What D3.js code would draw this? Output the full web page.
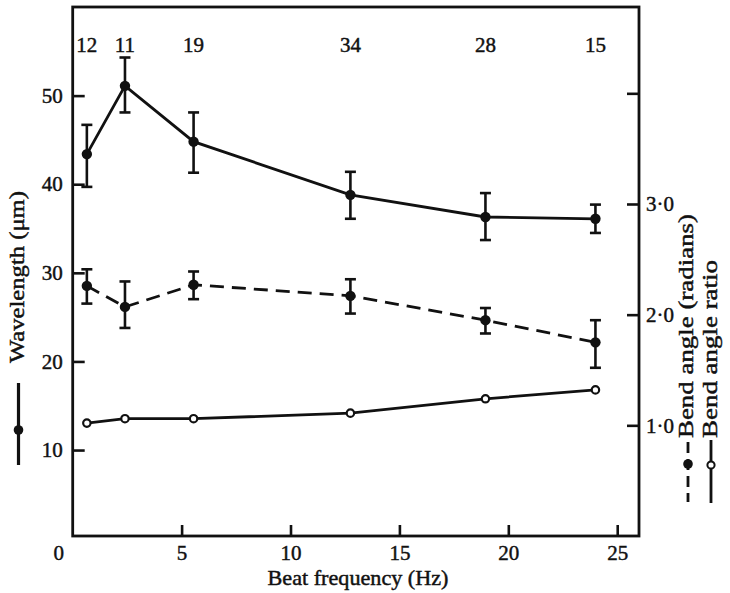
<!DOCTYPE html>
<html>
<head>
<meta charset="utf-8">
<script src="https://cdn.jsdelivr.net/npm/d3@7"></script>
<style>
  html, body { margin: 0; padding: 0; background: #fff; }
  svg { display: block; font-family: "Liberation Serif", "DejaVu Serif", serif; }
  svg text { font-family: "Liberation Serif", "DejaVu Serif", serif; stroke: #111; stroke-width: 0.45px; }
  .axis text { font-size: 21px; fill: #111; }
  .axis line, .axis path { stroke: #111; stroke-width: 2.6; }
</style>
</head>
<body>
<div id="chart"></div>
<script>
// Beat frequency (Hz) of each group, and number of cells in it
const freq = [0.65, 2.4, 5.55, 12.75, 18.95, 24.0];
const counts = ["12", "11", "19", "34", "28", "15"];

// Wavelength (µm), mean with error bar ends
const wavelength   = [43.4, 51.1, 44.8, 38.8, 36.3, 36.1];
const wavelengthLo = [39.7, 48.1, 41.3, 36.1, 33.7, 34.5];
const wavelengthHi = [46.7, 54.3, 48.1, 41.4, 39.0, 37.7];

// Bend angle (radians), mean with error bar ends
const bendAngle   = [2.26, 2.07, 2.27, 2.17, 1.95, 1.75];
const bendAngleLo = [2.10, 1.88, 2.14, 2.01, 1.83, 1.52];
const bendAngleHi = [2.41, 2.30, 2.39, 2.32, 2.06, 1.95];

// Bend angle ratio
const bendRatio = [1.02, 1.06, 1.06, 1.11, 1.24, 1.32];

// Tick values
const xTicks = [5, 10, 15, 20, 25];
const leftTicks = [10, 20, 30, 40, 50];
const rightTicks = [1, 2, 3, 4];
const rightLabels = ["1·0", "2·0", "3·0", ""];

const W = 730, H = 593;
const INK = "#111";

const svg = d3.select("#chart").append("svg")
  .attr("width", W).attr("height", H)
  .attr("viewBox", `0 0 ${W} ${H}`);

const x = d3.scaleLinear().domain([0, 26]).range([72.7, 639]);
const yL = d3.scaleLinear().domain([0.3, 60]).range([536, 7]);
const yR = d3.scaleLinear().domain([0, 4.78]).range([536, 7]);

const [x0, x1] = x.range();
const [yb, yt] = yL.range();

// Frame
svg.append("rect")
  .attr("x", x0).attr("y", yt)
  .attr("width", x1 - x0).attr("height", yb - yt)
  .attr("fill", "none").attr("stroke", INK).attr("stroke-width", 2.8);

// Axes, ticks pointing inward (d3 puts sans-serif on the group, drop it)
svg.append("g").attr("class", "axis")
  .attr("transform", `translate(0,${yb})`)
  .call(d3.axisBottom(x).tickValues(xTicks).tickSizeInner(-11).tickSizeOuter(0).tickPadding(9))
  .call(g => g.attr("font-family", null).attr("font-size", null))
  .call(g => g.select(".domain").remove());

svg.append("g").attr("class", "axis")
  .attr("transform", `translate(${x0},0)`)
  .call(d3.axisLeft(yL).tickValues(leftTicks).tickSizeInner(-12).tickSizeOuter(0).tickPadding(10))
  .call(g => g.attr("font-family", null).attr("font-size", null))
  .call(g => g.select(".domain").remove());

svg.append("g").attr("class", "axis")
  .attr("transform", `translate(${x1},0)`)
  .call(d3.axisRight(yR).tickValues(rightTicks)
    .tickFormat((d, i) => rightLabels[i])
    .tickSizeInner(-12).tickSizeOuter(0).tickPadding(7))
  .call(g => g.attr("font-family", null).attr("font-size", null))
  .call(g => g.select(".domain").remove());

// Shared zero in the corner
svg.append("text")
  .attr("x", x0 - 14).attr("y", yb + 24)
  .attr("text-anchor", "middle")
  .attr("font-size", 21).attr("fill", INK)
  .text("0");

// Axis titles
svg.append("text")
  .attr("x", 358).attr("y", 585)
  .attr("text-anchor", "middle")
  .attr("font-size", 21).attr("fill", INK)
  .attr("textLength", 181).attr("lengthAdjust", "spacingAndGlyphs")
  .text("Beat frequency (Hz)");

svg.append("text")
  .attr("transform", "translate(24,277) rotate(-90)")
  .attr("text-anchor", "middle")
  .attr("font-size", 21).attr("fill", INK)
  .attr("textLength", 172).attr("lengthAdjust", "spacingAndGlyphs")
  .text("Wavelength (μm)");

// Sample sizes along the top
svg.append("g").selectAll("text")
  .data(freq)
  .join("text")
  .attr("x", d => x(d))
  .attr("y", 52)
  .attr("text-anchor", "middle")
  .attr("font-size", 21).attr("fill", INK)
  .text((d, i) => counts[i]);

// Helper for one series with optional error bars
function drawSeries(values, lo, hi, y, opts) {
  const pts = freq.map((f, i) => ({ f, v: values[i], lo: lo && lo[i], hi: hi && hi[i] }));
  const g = svg.append("g");

  g.append("path")
    .datum(pts)
    .attr("fill", "none")
    .attr("stroke", INK)
    .attr("stroke-width", 2.8)
    .attr("stroke-dasharray", opts.dash || null)
    .attr("d", d3.line().x(d => x(d.f)).y(d => y(d.v)));

  if (lo) {
    const eb = g.selectAll(".eb").data(pts).join("g").attr("class", "eb");
    eb.append("line")
      .attr("x1", d => x(d.f)).attr("x2", d => x(d.f))
      .attr("y1", d => y(d.lo)).attr("y2", d => y(d.hi))
      .attr("stroke", INK).attr("stroke-width", 2.6);
    ["lo", "hi"].forEach(k => {
      eb.append("line")
        .attr("x1", d => x(d.f) - 5.5).attr("x2", d => x(d.f) + 5.5)
        .attr("y1", d => y(d[k])).attr("y2", d => y(d[k]))
        .attr("stroke", INK).attr("stroke-width", 2.6);
    });
  }

  g.selectAll("circle").data(pts).join("circle")
    .attr("cx", d => x(d.f)).attr("cy", d => y(d.v))
    .attr("r", opts.open ? 3.7 : 5.2)
    .attr("fill", opts.open ? "#fff" : INK)
    .attr("stroke", INK)
    .attr("stroke-width", opts.open ? 2.2 : 0);
}

drawSeries(wavelength, wavelengthLo, wavelengthHi, yL, {});
drawSeries(bendAngle, bendAngleLo, bendAngleHi, yR, { dash: "14,8" });
drawSeries(bendRatio, null, null, yR, { open: true });

// Legend keys set vertically beside the axes
function legendKey(cx, yTop, yBot, yDot, open, dash, width) {
  const g = svg.append("g");
  g.append("line")
    .attr("x1", cx).attr("x2", cx).attr("y1", yTop).attr("y2", yBot)
    .attr("stroke", INK).attr("stroke-width", width)
    .attr("stroke-dasharray", dash || null);
  g.append("circle")
    .attr("cx", cx).attr("cy", yDot)
    .attr("r", open ? 3.6 : 4.8)
    .attr("fill", open ? "#fff" : INK)
    .attr("stroke", INK).attr("stroke-width", open ? 2 : 0);
}

legendKey(18.5, 383, 465, 430, false, null, 3.2);
legendKey(688, 442, 502, 464, false, "11,6", 2.8);
legendKey(711, 440, 503, 465, true, null, 2.8);

svg.append("text")
  .attr("transform", "translate(693,438) rotate(-90)")
  .attr("font-size", 21).attr("fill", INK)
  .attr("textLength", 224).attr("lengthAdjust", "spacingAndGlyphs")
  .text("Bend angle (radians)");

svg.append("text")
  .attr("transform", "translate(717,438) rotate(-90)")
  .attr("font-size", 21).attr("fill", INK)
  .attr("textLength", 178).attr("lengthAdjust", "spacingAndGlyphs")
  .text("Bend angle ratio");
</script>
</body>
</html>
